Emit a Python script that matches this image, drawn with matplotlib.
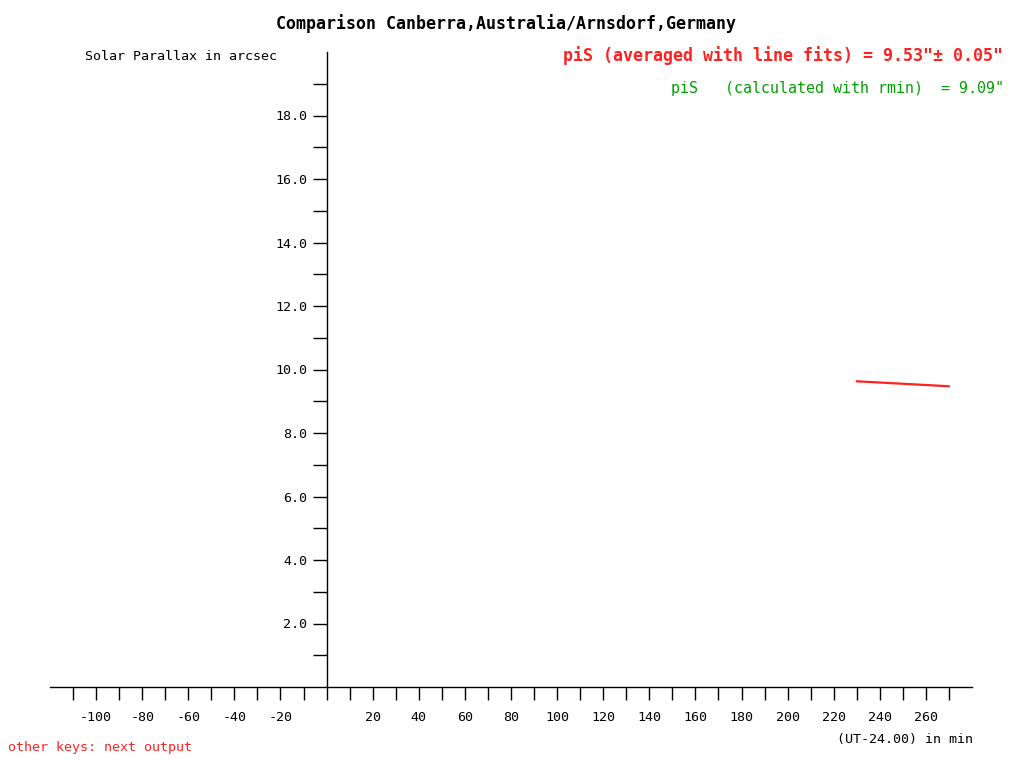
import matplotlib
matplotlib.use("Agg")
import matplotlib.pyplot as plt
from matplotlib.ticker import FixedLocator, FuncFormatter

# Data
t_min = [229.6, 245.0, 258.0, 270.4]
parallax = [9.63, 9.57, 9.52, 9.47]

x_ticks = list(range(-110, 280, 10))
y_ticks = list(range(1, 20))

title = "Comparison Canberra,Australia/Arnsdorf,Germany"
ylabel = "Solar Parallax in arcsec"
xlabel = "(UT-24.00) in min"
txt_avg = 'piS (averaged with line fits) = 9.53"\u00b1 0.05"'
txt_rmin = 'piS   (calculated with rmin)  = 9.09"'
txt_keys = "other keys: next output"

plt.rcParams['font.family'] = ['DejaVu Sans Mono']
W, H = 1024, 768
fig = plt.figure(figsize=(W/100, H/100), dpi=100)
ax = fig.add_axes([50/W, (H-687)/H, 922/W, 635/H])
ax.set_xlim(-120, 280)
ax.set_ylim(0, 20)

for s in ['top', 'right']:
    ax.spines[s].set_visible(False)
ax.spines['left'].set_position(('data', 0))
ax.spines['bottom'].set_position(('data', 0))
ax.spines['left'].set_linewidth(1)
ax.spines['bottom'].set_linewidth(1)

ax.xaxis.set_major_locator(FixedLocator(x_ticks))
ax.yaxis.set_major_locator(FixedLocator(y_ticks))
ax.xaxis.set_major_formatter(FuncFormatter(lambda v, p: '' if (round(v) % 20 != 0 or round(v) == 0) else f"{int(round(v))}"))
ax.yaxis.set_major_formatter(FuncFormatter(lambda v, p: f"{v:.1f}" if round(v) % 2 == 0 else ''))
ax.tick_params(axis='x', direction='out', length=9, width=1, pad=8.5, labelsize=9.6)
ax.tick_params(axis='y', direction='out', length=10, width=1, pad=3.8, labelsize=9.6)
ax.patch.set_visible(False)

ax.plot(t_min, parallax, color='#ff2020', linewidth=1.6, solid_capstyle='butt')

fig.text(506/W, 1-24/H, title, ha='center', va='center', fontsize=12, fontweight='bold')
fig.text(85/W, 1-57/H, ylabel, ha='left', va='center', fontsize=9.6)
fig.text(1003/W, 1-56/H, txt_avg, ha='right', va='center', fontsize=12, fontweight='bold', color='#ff2020')
fig.text(1004/W, 1-88/H, txt_rmin, ha='right', va='center', fontsize=10.8, color='#00a000')
fig.text(8/W, 1-748/H, txt_keys, ha='left', va='center', fontsize=9.6, color='#ff2020')
fig.text(973/W, 1-740/H, xlabel, ha='right', va='center', fontsize=9.6)

fig.savefig("out.png", dpi=100, facecolor='white')
